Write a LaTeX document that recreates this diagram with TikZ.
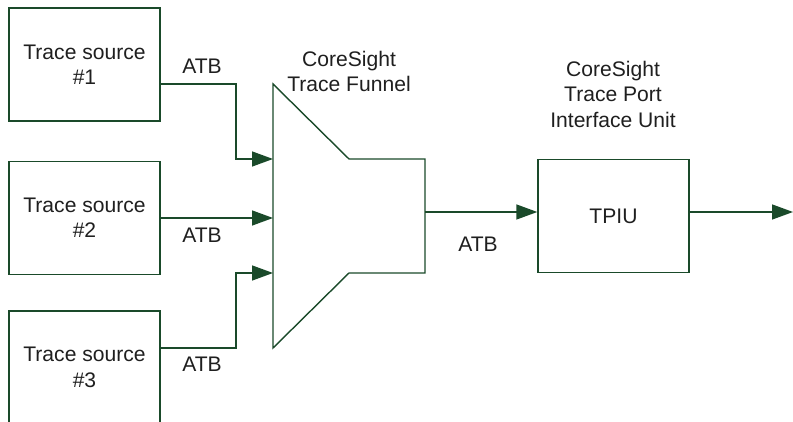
\documentclass[tikz,border=0pt]{standalone}
\usepackage{fontspec}
\setmainfont{Liberation Sans}
\usetikzlibrary{arrows.meta}
\definecolor{csgreen}{RGB}{26,74,42}
\begin{document}
\begin{tikzpicture}[every node/.style={font=\fontsize{12}{14.5}\selectfont, text=black!88},
  blk/.style={draw=csgreen, line width=0.8pt, minimum width=3.02cm, minimum height=2.26cm, align=center},
  lbl/.style={align=center},
  bus/.style={draw=csgreen, line width=0.8pt, -{Triangle[length=0.42cm, width=0.3cm]}}]
  \useasboundingbox (0,0) rectangle (15.86,8.44);
  \clip (0,0) rectangle (15.86,8.44);
  % trace sources
  \node[blk] (b1) at (1.69,7.15) {Trace source\\\#1};
  \node[blk] (b2) at (1.69,4.08) {Trace source\\\#2};
  \node[blk] (b3) at (1.69,1.09) {Trace source\\\#3};
  % funnel
  \draw[csgreen, line width=0.8pt] (5.46,6.76) -- (6.98,5.26) -- (8.5,5.26) -- (8.5,2.98)
    -- (6.98,2.98) -- (5.46,1.48) -- cycle;
  \coordinate (in1) at (5.46,5.26);
  \coordinate (in2) at (5.46,4.08);
  \coordinate (in3) at (5.46,2.98);
  \coordinate (out) at (8.5,4.2);
  \node[lbl] (fl) at (6.98,7.01) {CoreSight\\Trace Funnel};
  % TPIU
  \node[blk] (tp) at (12.27,4.12) {TPIU};
  \node[lbl] (tl) at (12.26,6.56) {CoreSight\\Trace Port\\Interface Unit};
  \coordinate (end) at (15.86,4.2);
  % buses
  \draw[bus] ([yshift=-0.39cm]b1.east) -| (4.72,5.26) -- (in1);
  \draw[bus] (b2.east) -- (in2);
  \draw[bus] ([yshift=0.39cm]b3.east) -| (4.72,2.98) -- (in3);
  \draw[bus] (out) -- (out -| tp.west);
  \draw[bus] (out -| tp.east) -- (end);
  \node (a1) at (4.04,7.12) {ATB};
  \node (a2) at (4.04,3.74) {ATB};
  \node (a3) at (4.04,1.16) {ATB};
  \node (a4) at (9.56,3.56) {ATB};
\end{tikzpicture}
\end{document}
